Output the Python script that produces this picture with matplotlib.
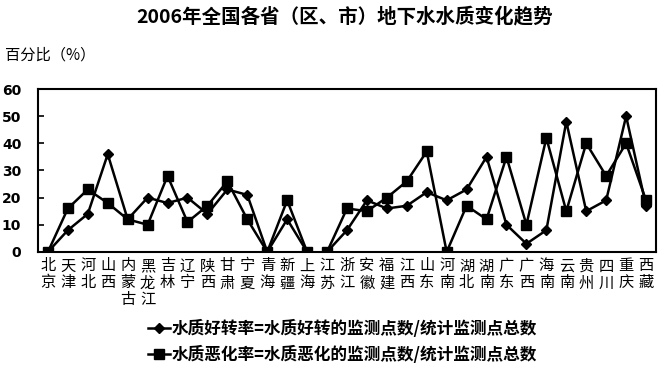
import matplotlib
matplotlib.use("Agg")
import matplotlib.pyplot as plt
import numpy as np

plt.rcParams['font.family'] = ['Noto Sans CJK SC', 'DejaVu Sans']

# provinces (x categories)
provinces = ['北京', '天津', '河北', '山西', '内蒙古', '黑龙江', '吉林', '辽宁', '陕西', '甘肃',
             '宁夏', '青海', '新疆', '上海', '江苏', '浙江', '安徽', '福建', '江西', '山东',
             '河南', '湖北', '湖南', '广东', '广西', '海南', '云南', '贵州', '四川', '重庆', '西藏']

# 水质好转率 (%)
better = [0, 8, 14, 36, 12, 20, 18, 20, 14, 23,
          21, 0, 12, 0, 0, 8, 19, 16, 17, 22,
          19, 23, 35, 10, 3, 8, 48, 15, 19, 50, 17]

# 水质恶化率 (%)
worse = [0, 16, 23, 18, 12, 10, 28, 11, 17, 26,
         12, 0, 19, 0, 0, 16, 15, 20, 26, 37,
         0, 17, 12, 35, 10, 42, 15, 40, 28, 40, 19]

# line is broken between 上海 and 江苏 in the original
split = provinces.index('江苏')

fig = plt.figure(figsize=(6.66, 3.71), dpi=100)
ax = fig.add_axes([0.057, 0.321, 0.928, 0.439])

x = np.arange(len(provinces))
style_b = dict(color='black', lw=1.8, marker='D', markersize=5.5)
style_w = dict(color='black', lw=1.8, marker='s', markersize=6.5)

lb, = ax.plot(x[:split], better[:split], **style_b,
              label='水质好转率=水质好转的监测点数/统计监测点总数')
ax.plot(x[split:], better[split:], **style_b)
lw_, = ax.plot(x[:split], worse[:split], **style_w,
               label='水质恶化率=水质恶化的监测点数/统计监测点总数')
ax.plot(x[split:], worse[split:], **style_w)

ax.set_xlim(-0.5, len(provinces) - 0.5)
ax.set_ylim(0, 60)
ax.set_yticks(range(0, 61, 10))
ax.set_xticks(x)
ax.set_xticklabels(['\n'.join(p) for p in provinces], fontsize=11, linespacing=1.0,
                   fontweight='medium')
ax.tick_params(axis='x', length=0, pad=4)
ax.tick_params(axis='y', direction='in', length=4, width=1.2, pad=12)
for lab in ax.get_yticklabels():
    lab.set_fontfamily('DejaVu Sans')
    lab.set_fontweight('bold')
    lab.set_fontsize(10)
for s in ax.spines.values():
    s.set_linewidth(1.5)

fig.text(0.518, 0.955, '2006年全国各省（区、市）地下水水质变化趋势',
         ha='center', va='center', fontsize=14, fontweight='bold')
fig.text(0.008, 0.852, '百分比（%）', ha='left', va='center', fontsize=11)

fig.legend(handles=[lb, lw_], loc='upper left', bbox_to_anchor=(0.222, 0.138),
           frameon=False, handlelength=1.3, handletextpad=0.1,
           labelspacing=0.45, borderpad=0, borderaxespad=0,
           prop=dict(size=12, weight='bold'))

fig.savefig('out.png', dpi=100)
